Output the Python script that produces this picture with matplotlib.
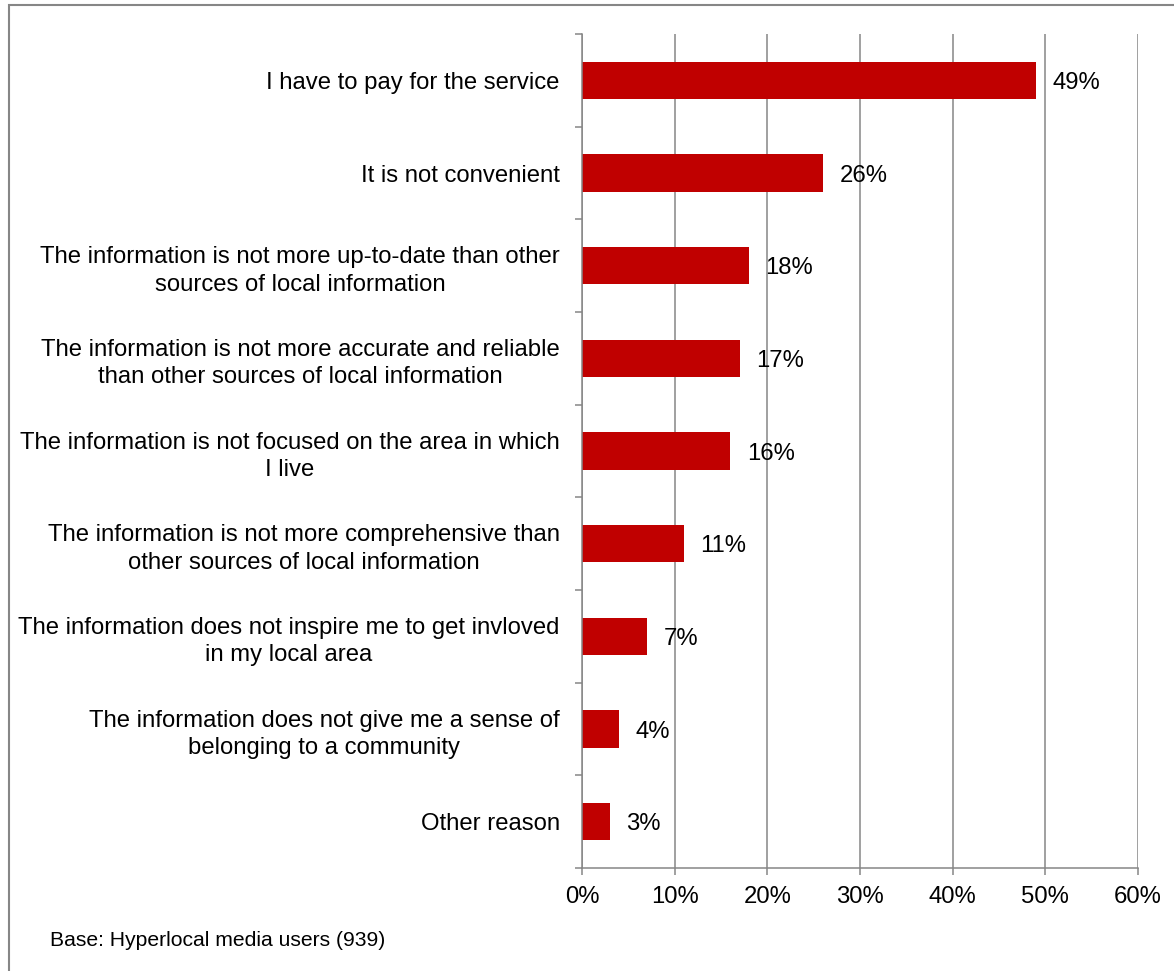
import matplotlib.pyplot as plt
from matplotlib.patches import Rectangle
from matplotlib.ticker import FixedLocator, PercentFormatter

plt.rcParams['font.family'] = ['Liberation Sans', 'DejaVu Sans']

# reasons for not paying, top to bottom
reasons = [
    "I have to pay for the service",
    "It is not convenient",
    "The information is not more up-to-date than other\nsources of local information",
    "The information is not more accurate and reliable\nthan other sources of local information",
    "The information is not focused on the area in which\nI live",
    "The information is not more comprehensive than\nother sources of local information",
    "The information does not inspire me to get invloved\nin my local area",
    "The information does not give me a sense of\nbelonging to a community",
    "Other reason",
]
share = [49, 26, 18, 17, 16, 11, 7, 4, 3]
x_ticks = [0, 10, 20, 30, 40, 50, 60]
base_note = "Base: Hyperlocal media users (939)"

bar_col = '#C00000'
grey = '#868686'

fig = plt.figure(figsize=(11.74, 9.71), dpi=100)
ax = fig.add_axes([582 / 1174, 1 - 868 / 971, 556 / 1174, 834 / 971])

# outer frame, running off the right and bottom edges
fig.patches.append(Rectangle((9 / 1174, -0.2), 1.2, 1.2 - 5 / 971,
                             transform=fig.transFigure, fill=False,
                             edgecolor=grey, lw=1.5, zorder=0))

ypos = list(range(len(reasons)))
ax.barh(ypos, share, height=0.4, color=bar_col, zorder=3)
for y, v in zip(ypos, share):
    ax.annotate(f"{v}%", (v, y), xytext=(12, 0), textcoords='offset points',
                ha='left', va='center_baseline', fontsize=17.2, color='black', zorder=4)

ax.set_xlim(0, 60)
ax.set_ylim(len(reasons) - 0.5, -0.5)
ax.xaxis.set_major_locator(FixedLocator(x_ticks))
ax.xaxis.set_major_formatter(PercentFormatter(decimals=0))
ax.set_yticks(ypos)
ax.set_yticklabels(reasons)
for lbl in ax.get_yticklabels():
    lbl.set_multialignment('center')
    lbl.set_linespacing(1.32)
ax.yaxis.set_minor_locator(FixedLocator([i - 0.5 for i in range(len(reasons) + 1)]))

ax.grid(axis='x', color=grey, lw=1.1, zorder=1)
ax.set_axisbelow(True)
for s in ['top', 'right']:
    ax.spines[s].set_visible(False)
for s in ['left', 'bottom']:
    ax.spines[s].set_color(grey)
    ax.spines[s].set_linewidth(1.1)
    ax.spines[s].set_zorder(5)

ax.tick_params(axis='y', which='major', length=0, pad=16, labelsize=17.2)
ax.tick_params(axis='y', which='minor', length=5, width=1.1, color=grey, direction='out')
ax.tick_params(axis='x', which='major', length=5, width=1.1, color=grey, direction='out',
               pad=8, labelsize=17.2)

fig.text(50 / 1174, 1 - 940 / 971, base_note, fontsize=15.2, ha='left', va='center')

fig.savefig('out.png', dpi=100)
